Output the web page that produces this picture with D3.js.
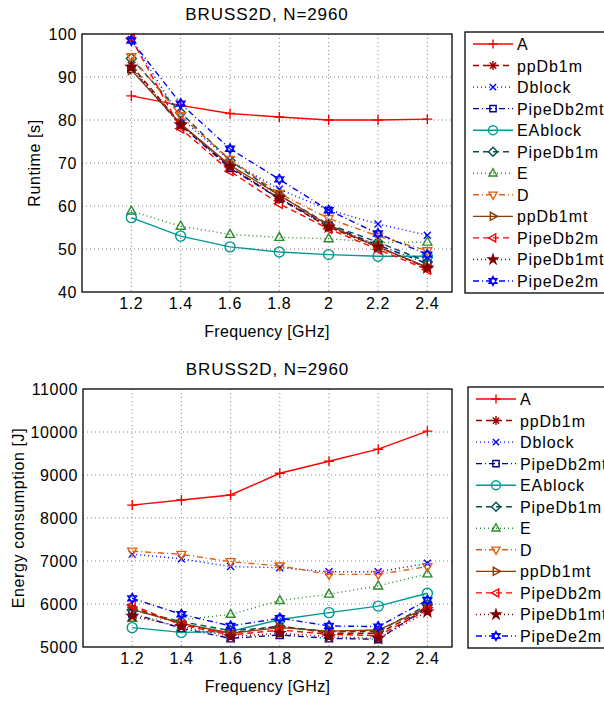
<!DOCTYPE html>
<html>
<head>
<meta charset="utf-8">
<script src="https://cdn.jsdelivr.net/npm/d3@7"></script>
<style>
  body { margin: 0; background: #fff; }
  text { font-family: "Liberation Sans", Arial, Helvetica, sans-serif; fill: #000; }
</style>
</head>
<body>
<div id="chart"></div>
<script>
// x values (GHz) and series names
const freqs = [1.2, 1.4, 1.6, 1.8, 2.0, 2.2, 2.4];
const seriesNames = ["A", "ppDb1m", "Dblock", "PipeDb2mt", "EAblock", "PipeDb1m",
    "E", "D", "ppDb1mt", "PipeDb2m", "PipeDb1mt", "PipeDe2m"];

// runtime [s], one row per series (same order as seriesNames)
const runtimeValues = [
    [85.6, 83.4, 81.5, 80.7, 80.0, 80.0, 80.2],
    [92.7, 79.1, 69.1, 61.7, 55.1, 50.5, 45.6],
    [98.7, 80.5, 70.5, 63.9, 59.1, 55.8, 53.2],
    [91.9, 78.8, 68.8, 61.7, 55.5, 50.9, 46.6],
    [57.3, 53.0, 50.5, 49.3, 48.7, 48.3, 48.3],
    [94.3, 81.7, 70.6, 62.5, 55.7, 51.6, 47.0],
    [58.8, 55.3, 53.4, 52.7, 52.4, 51.5, 51.6],
    [94.7, 81.0, 70.8, 62.9, 57.1, 53.0, 49.6],
    [91.6, 79.1, 69.5, 62.5, 55.5, 50.5, 45.8],
    [98.9, 78.0, 68.1, 60.5, 54.7, 49.9, 45.2],
    [92.3, 78.9, 69.1, 61.9, 55.1, 50.5, 45.6],
    [98.5, 83.8, 73.3, 66.2, 59.0, 53.6, 48.7]
];

// energy consumption [J]
const energyValues = [
    [8300, 8420, 8535, 9040, 9320, 9600, 10020],
    [5920, 5535, 5320, 5490, 5320, 5320, 5900],
    [7160, 7050, 6870, 6845, 6750, 6750, 6945],
    [5780, 5435, 5200, 5280, 5200, 5180, 5920],
    [5450, 5340, 5360, 5640, 5800, 5950, 6250],
    [5860, 5590, 5380, 5470, 5360, 5360, 5980],
    [5670, 5630, 5760, 6080, 6230, 6420, 6700],
    [7230, 7155, 6985, 6885, 6690, 6690, 6870],
    [5875, 5550, 5320, 5450, 5370, 5395, 5920],
    [5975, 5510, 5280, 5395, 5295, 5265, 5860],
    [5720, 5475, 5240, 5320, 5240, 5200, 5820],
    [6130, 5760, 5490, 5670, 5490, 5475, 6090]
];

const xTicks = [1.2, 1.4, 1.6, 1.8, 2, 2.2, 2.4];
const runtimeTicks = [40, 50, 60, 70, 80, 90, 100];
const energyTicks = [5000, 6000, 7000, 8000, 9000, 10000, 11000];

// look of each series
const colors = ["#ff0000", "#990000", "#0000ff", "#000099", "#009994", "#00524f",
    "#2e8b2e", "#e06010", "#8b3d0a", "#ff0000", "#800000", "#0000ff"];
const dashes = ["none", "6,4", "1,3", "6,3,1,3", "none", "6,4",
    "1,3", "6,3,1,3", "none", "6,4", "1,3", "6,3,1,3"];
const markers = ["plus", "asterisk", "x", "square", "circle", "diamond",
    "triUp", "triDown", "triRight", "triLeft", "pentagram", "hexagram"];

function markerPath(type, r) {
    const c = r * 0.7;
    switch (type) {
        case "plus": return `M${-r},0H${r}M0,${-r}V${r}`;
        case "x": return `M${-c},${-c}L${c},${c}M${-c},${c}L${c},${-c}`;
        case "asterisk": return `M${-r},0H${r}M0,${-r}V${r}M${-c},${-c}L${c},${c}M${-c},${c}L${c},${-c}`;
        case "square": return `M${-c},${-c}H${c}V${c}H${-c}Z`;
        case "circle": return `M${-r},0A${r},${r} 0 1,0 ${r},0A${r},${r} 0 1,0 ${-r},0Z`;
        case "diamond": return `M0,${-r}L${r},0L0,${r}L${-r},0Z`;
        case "triUp": return `M0,${-r}L${r * 0.9},${r * 0.6}L${-r * 0.9},${r * 0.6}Z`;
        case "triDown": return `M0,${r}L${r * 0.9},${-r * 0.6}L${-r * 0.9},${-r * 0.6}Z`;
        case "triRight": return `M${r},0L${-r * 0.6},${r * 0.9}L${-r * 0.6},${-r * 0.9}Z`;
        case "triLeft": return `M${-r},0L${r * 0.6},${r * 0.9}L${r * 0.6},${-r * 0.9}Z`;
        case "pentagram": return d3.symbol(d3.symbolStar, r * r * 1.3)();
        case "hexagram": {
            const t1 = `M0,${-r}L${r * 0.87},${r * 0.5}L${-r * 0.87},${r * 0.5}Z`;
            const t2 = `M0,${r}L${r * 0.87},${-r * 0.5}L${-r * 0.87},${-r * 0.5}Z`;
            return t1 + t2;
        }
    }
}

function main() {

    const canvasWidth = 604;
    const canvasHeight = 701;

    const svg = d3.select("#chart").append("svg")
        .attr("width", canvasWidth)
        .attr("height", canvasHeight)

    function drawPanel(opts) {
        const x = d3.scaleLinear().domain([1.0, 2.5]).range([opts.left, opts.right]);
        const y = d3.scaleLinear().domain(opts.yDomain).range([opts.bottom, opts.top]);

        const g = svg.append("g");

        // grid
        g.append("g").selectAll("line.gx")
            .data(xTicks).enter().append("line")
            .attr("x1", d => x(d)).attr("x2", d => x(d))
            .attr("y1", opts.top).attr("y2", opts.bottom)
            .attr("stroke", "#666").attr("stroke-width", 0.8)
            .attr("stroke-dasharray", "1,3")
        g.append("g").selectAll("line.gy")
            .data(opts.yTicks.slice(1, -1)).enter().append("line")
            .attr("x1", opts.left).attr("x2", opts.right)
            .attr("y1", d => y(d)).attr("y2", d => y(d))
            .attr("stroke", "#666").attr("stroke-width", 0.8)
            .attr("stroke-dasharray", "1,3")

        // series
        const line = d3.line().x((d, i) => x(freqs[i])).y(d => y(d));
        opts.values.forEach((vals, k) => {
            g.append("path")
                .datum(vals)
                .attr("d", line)
                .attr("fill", "none")
                .attr("stroke", colors[k])
                .attr("stroke-width", 1.4)
                .attr("stroke-dasharray", dashes[k] === "none" ? null : dashes[k])
            g.append("g").selectAll("path")
                .data(vals).enter().append("path")
                .attr("transform", (d, i) => `translate(${x(freqs[i])},${y(d)})`)
                .attr("d", markerPath(markers[k], 5))
                .attr("fill", markers[k] === "pentagram" ? colors[k] : "none")
                .attr("stroke", colors[k])
                .attr("stroke-width", 1.4)
        });

        // axes box
        g.append("rect")
            .attr("x", opts.left).attr("y", opts.top)
            .attr("width", opts.right - opts.left).attr("height", opts.bottom - opts.top)
            .attr("fill", "none").attr("stroke", "#000").attr("stroke-width", 1.3)

        // tick labels
        g.append("g").selectAll("text")
            .data(xTicks).enter().append("text")
            .attr("x", d => x(d)).attr("y", opts.bottom + 17)
            .attr("text-anchor", "middle")
            .style("font-size", "16px").style("letter-spacing", "0.6px")
            .text(d => d)
        g.append("g").selectAll("text")
            .data(opts.yTicks).enter().append("text")
            .attr("x", opts.left - 5).attr("y", d => y(d) + 5.5)
            .attr("text-anchor", "end")
            .style("font-size", "16px").style("letter-spacing", "0.6px")
            .text(d => d)

        // labels
        g.append("text")
            .attr("x", (opts.left + opts.right) / 2).attr("y", opts.top - 14)
            .attr("text-anchor", "middle")
            .style("font-size", "17px").style("letter-spacing", "0.9px")
            .text("BRUSS2D, N=2960")
        g.append("text")
            .attr("x", (opts.left + opts.right) / 2).attr("y", opts.bottom + 45)
            .attr("text-anchor", "middle")
            .style("font-size", "16px").style("letter-spacing", "0.3px")
            .text("Frequency [GHz]")
        g.append("text")
            .attr("transform", `translate(${opts.yLabelX},${(opts.top + opts.bottom) / 2}) rotate(-90)`)
            .attr("text-anchor", "middle")
            .style("font-size", "16px").style("letter-spacing", "0.6px")
            .text(opts.yLabel)

        // legend (box runs off the right edge, as in the original figure)
        const lg = g.append("g")
        lg.append("rect")
            .attr("x", opts.legX).attr("y", opts.legTop)
            .attr("width", 160).attr("height", opts.legBottom - opts.legTop)
            .attr("fill", "#fff").attr("stroke", "#000").attr("stroke-width", 1.3)
        const step = (opts.legBottom - opts.legTop - 24) / 11;
        seriesNames.forEach((name, k) => {
            const yy = opts.legTop + 12 + k * step;
            lg.append("line")
                .attr("x1", opts.legX + 8).attr("x2", opts.legX + 48)
                .attr("y1", yy).attr("y2", yy)
                .attr("stroke", colors[k]).attr("stroke-width", 1.4)
                .attr("stroke-dasharray", dashes[k] === "none" ? null : dashes[k])
            lg.append("path")
                .attr("transform", `translate(${opts.legX + 28},${yy})`)
                .attr("d", markerPath(markers[k], 4.5))
                .attr("fill", markers[k] === "pentagram" ? colors[k] : "none")
                .attr("stroke", colors[k]).attr("stroke-width", 1.4)
            lg.append("text")
                .attr("x", opts.legX + 52).attr("y", yy + 6)
                .style("font-size", "16px").style("letter-spacing", "0.9px")
                .text(name)
        });
    }

    drawPanel({
        left: 82, right: 452, top: 34, bottom: 292,
        yDomain: [40, 100], yTicks: runtimeTicks, values: runtimeValues,
        yLabel: "Runtime [s]", yLabelX: 40,
        legX: 465, legTop: 32, legBottom: 293
    });

    drawPanel({
        left: 83, right: 452, top: 389, bottom: 647,
        yDomain: [5000, 11000], yTicks: energyTicks, values: energyValues,
        yLabel: "Energy consumption [J]", yLabelX: 24,
        legX: 468, legTop: 387, legBottom: 648
    });
}
main();
</script>
</body>
</html>
